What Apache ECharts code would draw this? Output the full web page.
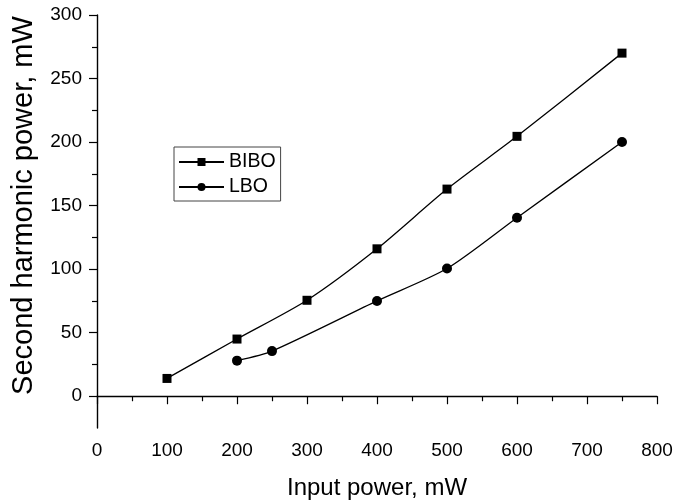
<!DOCTYPE html>
<html>
<head>
<meta charset="utf-8">
<script src="https://cdn.jsdelivr.net/npm/echarts@6/dist/echarts.min.js"></script>
<style>html,body{margin:0;padding:0;background:#fff}#c{width:675px;height:501px}</style>
</head>
<body>
<div id="c"></div>
<script>
const biboX = [100, 200, 300, 400, 500, 600, 750];
const biboY = [14, 45, 75.5, 116, 163, 204.5, 270];
const lboX = [200, 250, 400, 500, 600, 750];
const lboY = [28, 35.5, 75, 100.5, 140.5, 200];
const xTicks = [0, 100, 200, 300, 400, 500, 600, 700, 800];
const yTicks = [0, 50, 100, 150, 200, 250, 300];
const yMinorTicks = [25, 75, 125, 175, 225, 275];

const font = 'Liberation Sans, Arial, sans-serif';
const chart = echarts.init(document.getElementById('c'), null, {renderer: 'canvas'});
const yBase = {
  type: 'value', min: -25, max: 300, interval: 25, position: 'left',
  splitLine: {show: false}
};
chart.setOption({
  animation: false,
  backgroundColor: '#fff',
  grid: {left: 97, right: 18, top: 15, bottom: 73, containLabel: false, outerBoundsMode: 'none'},
  legend: {
    left: 174, top: 147, orient: 'vertical',
    itemWidth: 45, itemHeight: 10, itemGap: 5,
    padding: [5, 5, 4, 4],
    borderColor: '#444', borderWidth: 1,
    textStyle: {fontFamily: font, fontSize: 19.5, color: '#000'},
    data: ['BIBO', 'LBO']
  },
  xAxis: {
    type: 'value', min: 0, max: 800, interval: 100,
    name: 'Input power, mW', nameLocation: 'middle', nameGap: 48,
    nameTextStyle: {fontFamily: font, fontSize: 24, color: '#000'},
    axisLine: {show: true, lineStyle: {color: '#000', width: 1.4}},
    axisTick: {show: true, inside: false, length: 8, lineStyle: {color: '#000', width: 1.2}},
    minorTick: {show: true, splitNumber: 2, length: 5, lineStyle: {color: '#000', width: 1.2}},
    axisLabel: {fontFamily: font, fontSize: 19, color: '#000', margin: 13,
      formatter: v => xTicks.includes(v) ? String(v) : ''},
    splitLine: {show: false}
  },
  yAxis: [
    Object.assign({}, yBase, {
      name: 'Second harmonic power, mW', nameLocation: 'middle', nameGap: 59,
      nameTextStyle: {fontFamily: font, fontSize: 29, color: '#000', padding: [0, 0, 0, 32]},
      axisLine: {show: true, onZero: false, lineStyle: {color: '#000', width: 1.4}},
      axisTick: {show: true, inside: false, length: 8, customValues: yTicks, lineStyle: {color: '#000', width: 1.2}},
      axisLabel: {fontFamily: font, fontSize: 19, color: '#000', margin: 15, customValues: yTicks,
        formatter: v => String(v)}
    }),
    Object.assign({}, yBase, {
      axisLine: {show: false, onZero: false},
      axisTick: {show: true, inside: false, length: 5, customValues: yMinorTicks, lineStyle: {color: '#000', width: 1.2}},
      axisLabel: {show: false}
    })
  ],
  series: [
    {
      name: 'BIBO', type: 'line', smooth: 0.25, yAxisIndex: 0,
      data: biboX.map((x, i) => [x, biboY[i]]),
      symbol: 'rect', symbolSize: 9,
      itemStyle: {color: '#000'},
      lineStyle: {color: '#000', width: 1.3}
    },
    {
      name: 'LBO', type: 'line', smooth: 0.25, yAxisIndex: 0,
      data: lboX.map((x, i) => [x, lboY[i]]),
      symbol: 'circle', symbolSize: 10,
      itemStyle: {color: '#000'},
      lineStyle: {color: '#000', width: 1.3}
    }
  ]
});
</script>
</body>
</html>
